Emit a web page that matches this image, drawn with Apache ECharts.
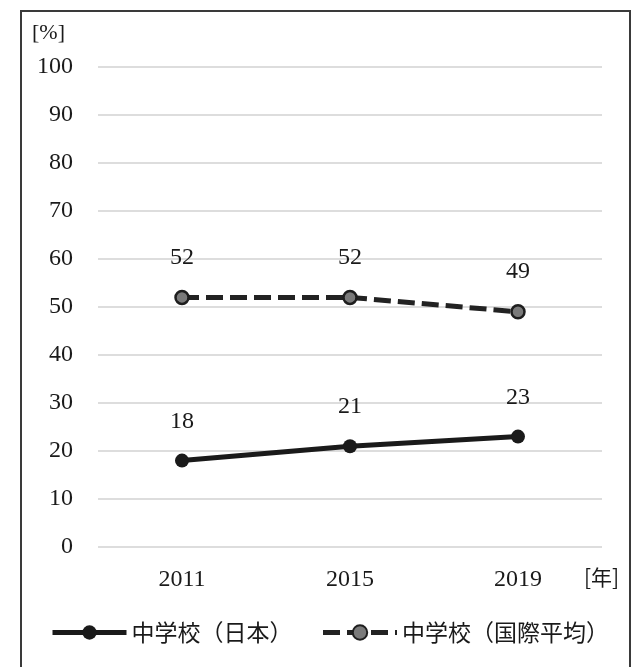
<!DOCTYPE html>
<html>
<head>
<meta charset="utf-8">
<script src="https://cdn.jsdelivr.net/npm/echarts@6/dist/echarts.min.js"></script>
<style>
  html, body { margin: 0; padding: 0; background: #fff; }
  #chart { width: 638px; height: 667px; }
</style>
</head>
<body>
<div id="chart"></div>
<script>
// Survey years
const years = ['2011', '2015', '2019'];
// Share of lower-secondary students (%), Japan vs. international average
const japan = [18, 21, 23];
const intlAverage = [52, 52, 49];
const yTicks = { min: 0, max: 100, interval: 10 };

const seriesNames = ['中学校（日本）', '中学校（国際平均）'];
const serif = '"Liberation Serif", "DejaVu Serif", serif';
const cjk = '"Noto Sans CJK JP", "Noto Sans", sans-serif';
const ink = '#1a1a1a';

const chart = echarts.init(document.getElementById('chart'), null, { renderer: 'canvas' });

chart.setOption({
  backgroundColor: '#ffffff',
  animation: false,
  grid: { left: 98, right: 36, top: 67, bottom: 120, containLabel: false },
  xAxis: {
    type: 'category',
    data: years,
    boundaryGap: true,
    axisLine: { show: false },
    axisTick: { show: false },
    axisLabel: { color: ink, fontFamily: serif, fontSize: 24, margin: 21 },
    splitLine: { show: false }
  },
  yAxis: {
    type: 'value',
    min: yTicks.min,
    max: yTicks.max,
    interval: yTicks.interval,
    axisLine: { show: false },
    axisTick: { show: false },
    axisLabel: { color: ink, fontFamily: serif, fontSize: 24, margin: 25 },
    splitLine: { lineStyle: { color: '#d2d2d2', width: 1.5 } }
  },
  legend: {
    left: 45,
    top: 616,
    itemWidth: 74,
    itemHeight: 18,
    itemGap: 28,
    lineStyle: { width: 5 },
    textStyle: { color: ink, fontFamily: cjk, fontSize: 23 },
    data: seriesNames
  },
  graphic: [
    {
      type: 'rect',
      shape: { x: 21, y: 11, width: 609, height: 700 },
      style: { fill: 'none', stroke: '#3a3a3a', lineWidth: 2 },
      silent: true,
      z: -1
    },
    {
      type: 'text',
      left: 32,
      top: 22,
      style: { text: '[%]', fill: ink, font: '22px ' + serif }
    },
    {
      type: 'text',
      left: 584,
      top: 567,
      style: { text: '[年]', fill: ink, font: '21px ' + cjk }
    }
  ],
  series: [
    {
      name: seriesNames[0],
      type: 'line',
      data: japan,
      symbol: 'circle',
      symbolSize: 14,
      lineStyle: { color: '#1a1a1a', width: 5 },
      itemStyle: { color: '#1a1a1a' },
      label: {
        show: true,
        position: 'top',
        distance: 20,
        color: ink,
        fontFamily: serif,
        fontSize: 24
      }
    },
    {
      name: seriesNames[1],
      type: 'line',
      data: intlAverage,
      symbol: 'circle',
      symbolSize: 13,
      lineStyle: { color: '#222222', width: 5, type: [17, 7] },
      itemStyle: { color: '#7a7a7a', borderColor: '#1e1e1e', borderWidth: 2.5 },
      label: {
        show: true,
        position: 'top',
        distance: 20,
        color: ink,
        fontFamily: serif,
        fontSize: 24
      }
    }
  ]
});
</script>
</body>
</html>
